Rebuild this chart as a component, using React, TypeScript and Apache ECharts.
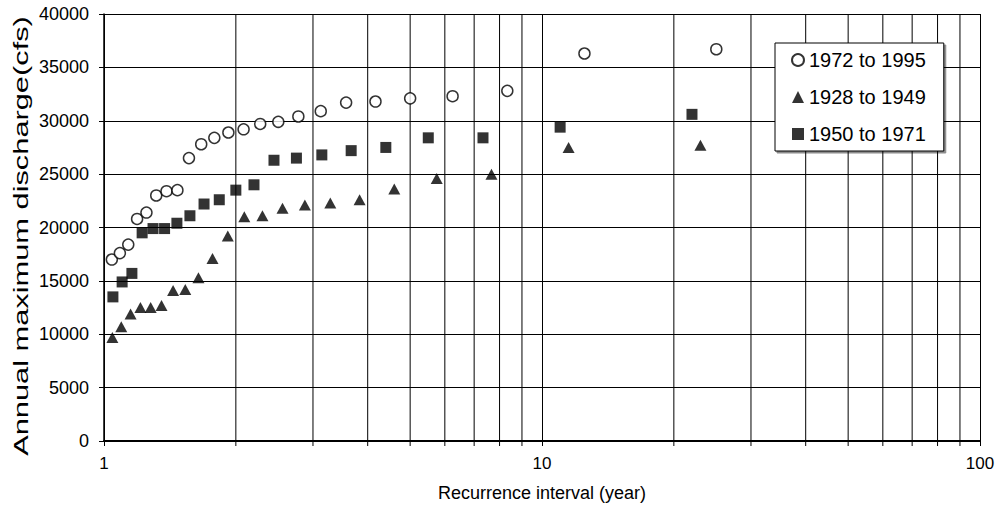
import React, { useEffect, useRef } from "react";
import * as echarts from "echarts";

// Recurrence interval (year) and annual maximum discharge (cfs)
const xs1972 = [1.042, 1.087, 1.136, 1.19, 1.25, 1.316, 1.389, 1.471, 1.563, 1.667, 1.786, 1.923, 2.083, 2.273, 2.5, 2.778, 3.125, 3.571, 4.167, 5, 6.25, 8.333, 12.5, 25];
const ys1972 = [17000, 17600, 18400, 20800, 21400, 23000, 23400, 23500, 26500, 27800, 28400, 28900, 29200, 29700, 29900, 30400, 30900, 31700, 31800, 32100, 32300, 32800, 36300, 36700];

const xs1928 = [1.045, 1.095, 1.15, 1.211, 1.278, 1.353, 1.438, 1.533, 1.643, 1.769, 1.917, 2.091, 2.3, 2.556, 2.875, 3.286, 3.833, 4.6, 5.75, 7.667, 11.5, 23];
const ys1928 = [9700, 10700, 11900, 12500, 12500, 12700, 14100, 14200, 15300, 17100, 19200, 21000, 21100, 21800, 22100, 22300, 22600, 23600, 24600, 25000, 27500, 27700];

const xs1950 = [1.048, 1.1, 1.158, 1.222, 1.294, 1.375, 1.467, 1.571, 1.692, 1.833, 2, 2.2, 2.444, 2.75, 3.143, 3.667, 4.4, 5.5, 7.333, 11, 22];
const ys1950 = [13500, 14900, 15700, 19500, 19900, 19900, 20400, 21100, 22200, 22600, 23500, 24000, 26300, 26500, 26800, 27200, 27500, 28400, 28400, 29400, 30600];

const minorTicks = [2, 3, 4, 5, 6, 7, 8, 9, 20, 30, 40, 50, 60, 70, 80, 90];

const seriesNames = ["1972 to 1995", "1928 to 1949", "1950 to 1971"];
const xTitle = "Recurrence interval (year)";
const yTitle = "Annual maximum discharge(cfs)";

const FONT = "Liberation Sans, Arial, sans-serif";

function pairs(xs: number[], ys: number[]) {
  return xs.map((x, i) => [x, ys[i]]);
}

export default function App() {
  const ref = useRef<HTMLDivElement>(null);
  useEffect(() => {
    if (!ref.current) return;
    const chart = echarts.init(ref.current, null, { renderer: "svg" });
    chart.setOption({
      animation: false,
      backgroundColor: "#fff",
      textStyle: { fontFamily: FONT, color: "#000" },
      grid: { left: 104, right: 20, top: 14, bottom: 68 },
      graphic: [
        {
          type: "text",
          x: 21,
          y: 236,
          rotation: Math.PI / 2,
          scaleX: 1.54,
          silent: true,
          style: {
            text: yTitle,
            fontSize: 20,
            fontFamily: FONT,
            fill: "#000",
            align: "center",
            verticalAlign: "middle",
          },
        },
      ],
      xAxis: {
        type: "log",
        logBase: 10,
        min: 1,
        max: 100,
        name: xTitle,
        nameLocation: "middle",
        nameGap: 43,
        nameTextStyle: { fontSize: 18, color: "#000", fontFamily: FONT },
        axisLine: { show: true, onZero: false, lineStyle: { color: "#000", width: 2 } },
        axisTick: { show: true, length: 5, lineStyle: { color: "#000" } },
        axisLabel: { fontSize: 17, color: "#000", margin: 14, fontFamily: FONT },
        splitLine: { show: true, lineStyle: { color: "#000", width: 1 } },
      },
      yAxis: {
        type: "value",
        min: 0,
        max: 40000,
        interval: 5000,
        axisLine: { show: true, lineStyle: { color: "#000", width: 1.5 } },
        axisTick: { show: true, length: 5, lineStyle: { color: "#000" } },
        axisLabel: {
          fontSize: 18,
          color: "#000",
          margin: 15,
          fontFamily: FONT,
          formatter: (v: number) => String(v),
        },
        splitLine: { show: true, lineStyle: { color: "#000", width: 1 } },
      },
      legend: {
        orient: "vertical",
        left: 775,
        top: 43,
        padding: [7, 18, 7, 16],
        itemGap: 17,
        itemWidth: 12,
        itemHeight: 12,
        backgroundColor: "#fff",
        borderColor: "#000",
        borderWidth: 1,
        borderRadius: 0,
        shadowColor: "rgba(0,0,0,0.45)",
        shadowOffsetX: 2,
        shadowOffsetY: 2,
        shadowBlur: 0,
        textStyle: { fontSize: 20, color: "#000", fontFamily: FONT },
        data: [
          { name: seriesNames[0], icon: "circle" },
          { name: seriesNames[1], icon: "triangle" },
          { name: seriesNames[2], icon: "rect" },
        ],
      },
      series: [
        {
          type: "custom",
          name: "minor",
          silent: true,
          clip: false,
          z: 1,
          data: minorTicks.map((v) => [v, 0]),
          encode: { x: 0, y: 1 },
          renderItem: (params: any, api: any) => {
            const v = api.value(0);
            const p0 = api.coord([v, 0]);
            const p1 = api.coord([v, 40000]);
            return {
              type: "line",
              shape: { x1: p0[0], y1: p0[1] + 5, x2: p1[0], y2: p1[1] },
              style: { stroke: "#000", lineWidth: 1 },
            };
          },
        },
        {
          type: "scatter",
          name: seriesNames[0],
          symbol: "circle",
          symbolSize: 11,
          z: 3,
          itemStyle: { color: "#fff", borderColor: "#000", borderWidth: 1.5 },
          data: pairs(xs1972, ys1972),
        },
        {
          type: "scatter",
          name: seriesNames[1],
          symbol: "triangle",
          symbolSize: [12, 11],
          z: 3,
          itemStyle: { color: "#000" },
          data: pairs(xs1928, ys1928),
        },
        {
          type: "scatter",
          name: seriesNames[2],
          symbol: "rect",
          symbolSize: 11,
          z: 3,
          itemStyle: { color: "#000" },
          data: pairs(xs1950, ys1950),
        },
      ],
    });
    return () => chart.dispose();
  }, []);
  return (
    <div
      ref={ref}
      style={{ position: "absolute", left: 0, top: 0, width: 1000, height: 509 }}
    />
  );
}
